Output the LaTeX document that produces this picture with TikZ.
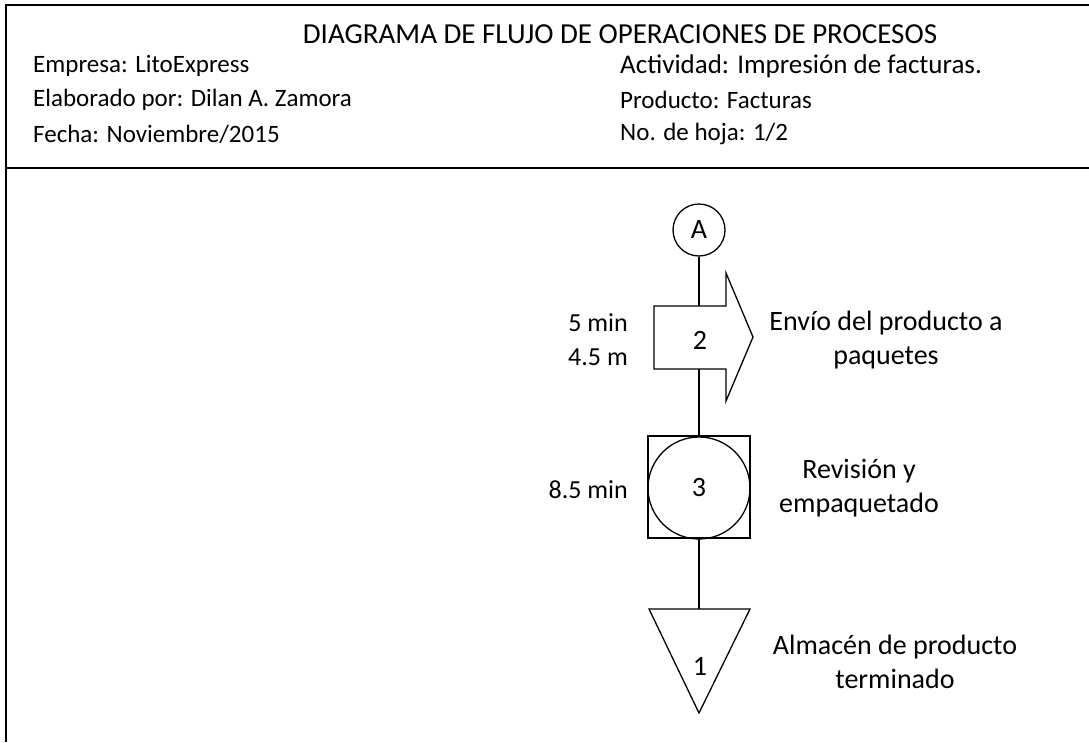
\documentclass[tikz,border=0pt]{standalone}
\usepackage{fontspec}
\setmainfont{Carlito}
\begin{document}
\begin{tikzpicture}[x=1pt,y=-1pt,
  every node/.style={font=\fontsize{25}{30}\selectfont, inner sep=0pt},
  big/.style={font=\fontsize{28}{34}\selectfont},
  ln/.style={line width=1.3pt},
  sym/.style={draw, line width=1.3pt},
  hdr/.style={anchor=west},
  lbl/.style={align=center, big}]
\useasboundingbox (0,0) rectangle (1089,742);
% frame
\draw[ln] (1089,5) -- (6,5) -- (6,742);
\draw[ln] (6,168) -- (1089,168);
% header
\node[font=\fontsize{29}{34}\selectfont] (title) at (620,34) {DIAGRAMA DE FLUJO DE OPERACIONES DE PROCESOS};
\node[hdr] (emp) at (33,66) {Empresa: LitoExpress};
\node[hdr] (elab) at (33,100) {Elaborado por: Dilan A. Zamora};
\node[hdr] (fecha) at (33,134) {Fecha: Noviembre/2015};
\node[hdr, font=\fontsize{27}{32}\selectfont] (act) at (620,66) {Actividad: Impresión de facturas.};
\node[hdr] (prod) at (620,100) {Producto: Facturas};
\node[hdr] (hoja) at (620,134) {No. de hoja: 1/2};
% connector A
\node[sym, circle, minimum size=52, big] (A) at (699,230) {A};
% transport arrow
\draw[sym, fill=white] (726,306) -- (654,306) -- (654,369) -- (726,369) -- (726,401) -- (753,337) -- (726,273) -- cycle;
\coordinate (arrtop) at (699,306);
\coordinate (arrbot) at (699,369);
\node[big] (n2) at (700,340) {2};
% inspection-operation
\node[sym, minimum size=102] (sq) at (699,487) {};
\node[sym, circle, minimum size=102, big] (c3) at (699,488) {3};
% storage triangle
\coordinate (tritop) at (699,609);
\draw[sym] (649,609) -- (750,609) -- (699,713) -- cycle;
\node[big] (n1) at (700,666) {1};
% connectors
\draw[ln] (A.south) -- (arrtop);
\draw[ln] (arrbot) -- (sq.north);
\draw[ln] (sq.south) -- (tritop);
% labels
\node[align=center, anchor=east, font=\fontsize{26}{34}\selectfont] (t2) at (628,340) {5 min\\4.5 m};
\node[lbl] (d2) at (886,340) {Envío del producto a\\paquetes};
\node[anchor=east, font=\fontsize{26}{34}\selectfont] (t3) at (628,490) {8.5 min};
\node[lbl] (d3) at (859,488) {Revisión y\\empaquetado};
\node[lbl] (d1) at (895,662) {Almacén de producto\\terminado};
\end{tikzpicture}
\end{document}
